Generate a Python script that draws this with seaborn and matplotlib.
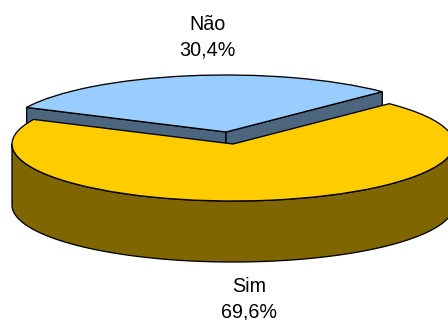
import numpy as np
import matplotlib
matplotlib.use("Agg")
import matplotlib.pyplot as plt
import seaborn as sns

# Data
categories = ["Não", "Sim"]
shares = [30.4, 69.6]

# Style / layout (pixels of the 448x320 canvas)
top_colors = ["#99CCFF", "#FFCC00"]
side_colors = ["#4C667F", "#7F6600"]
W, H = 448, 320
CX, CY = 233.0, 144.0     # apex of the large slice
RX, RY = 221.0, 57.0      # radii of the pie ellipse
DEPTH = 61.0              # height of the pie body
OFFSET_X, OFFSET_Y = -7.0, -12.0  # pull-out of the first slice
START = 45.0
LW = 0.95

sns.set_theme(style="white")
plt.rcParams["font.family"] = ["Liberation Sans", "DejaVu Sans"]

fig = plt.figure(figsize=(W / 100, H / 100), dpi=100)
ax = fig.add_axes([0, 0, 1, 1])


def dx(px):
    return (px - CX) / RX


def dy(py):
    return (CY - py) / RY


def edge_kw(z, color):
    return dict(facecolor=color, edgecolor="black", linewidth=LW, zorder=z, joinstyle="round")


sweep0 = shares[0] / sum(shares) * 360.0
a0, a1 = START, START + sweep0
depth_u = DEPTH / RY
bx, by = OFFSET_X / RX, -OFFSET_Y / RY


def cut_face(angle):
    x = bx + np.cos(np.radians(angle))
    y = by + np.sin(np.radians(angle))
    ax.fill([bx, x, x, bx], [by, y, y - depth_u, by - depth_u], **edge_kw(1, side_colors[0]))


# Cut faces of the pulled-out slice, behind everything
cut_face(a1)
cut_face(a0)

# Top of the pulled-out slice
w_blue, _ = ax.pie(shares, colors=[top_colors[0], "none"], startangle=START, center=(bx, by),
                   radius=1.0, wedgeprops=dict(edgecolor="black", linewidth=LW, zorder=2))
w_blue[1].set_visible(False)

# Outer wall of the large slice
t = np.radians(np.linspace(180, 360, 241))
xs = np.cos(t)
ys = np.sin(t)
ax.fill(np.r_[xs, xs[::-1]], np.r_[ys, ys[::-1] - depth_u], **edge_kw(3, side_colors[1]))

# Top of the large slice
w_gold, _ = ax.pie(shares, colors=["none", top_colors[1]], startangle=START, center=(0, 0),
                   radius=1.0, wedgeprops=dict(edgecolor="black", linewidth=LW, zorder=4))
w_gold[0].set_visible(False)

ax.set_aspect("auto")
ax.set_xlim(dx(0), dx(W))
ax.set_ylim(dy(H), dy(0))
ax.set_axis_off()

# Labels
label_pos = [(207, 37), (249, 299)]
for name, share, (px, py) in zip(categories, shares, label_pos):
    ax.text(dx(px), dy(py), f"{name}\n{share:.1f}%".replace(".", ","), ha="center", va="center",
            fontsize=14.2, color="black", linespacing=1.45, zorder=6)

fig.savefig("out.png", dpi=100)
